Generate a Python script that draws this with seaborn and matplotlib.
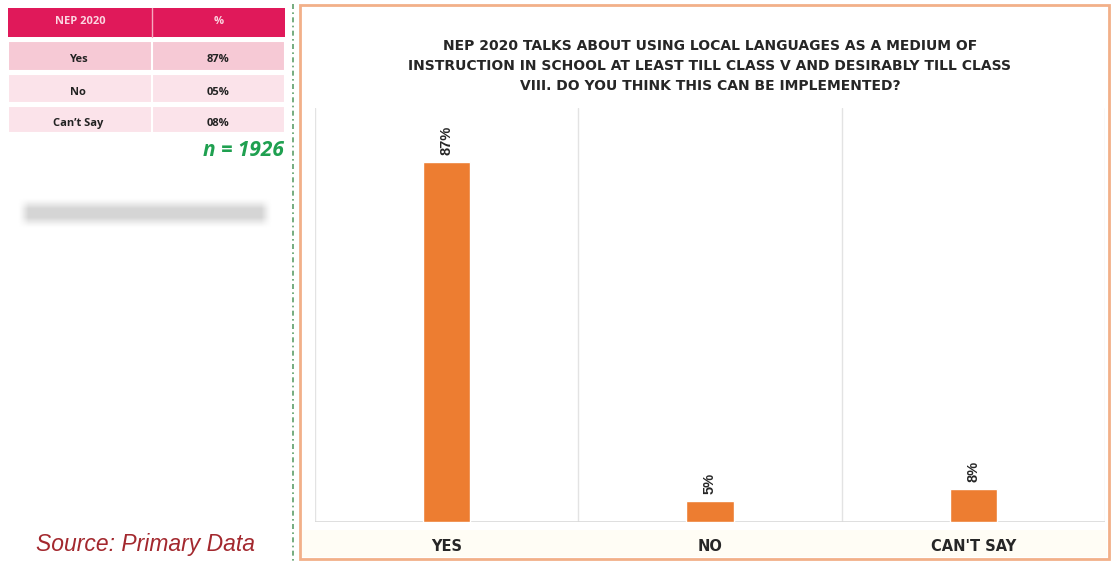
import numpy as np
import pandas as pd
import matplotlib
matplotlib.use("Agg")
import matplotlib.pyplot as plt
from matplotlib.patches import Rectangle
import seaborn as sns

# Survey responses
categories = ["YES", "NO", "CAN'T SAY"]
shares = [87, 5, 8]

# Summary table beside the chart
table_header = ["NEP 2020", "%"]
table_rows = ["Yes", "No", "Can\u2019t Say"]
table_values = ["87%", "05%", "08%"]
sample_note = "n = 1926"
source_note = "Source: Primary Data"
title = ("NEP 2020 TALKS ABOUT USING LOCAL LANGUAGES AS A MEDIUM OF\n"
         "INSTRUCTION IN SCHOOL AT LEAST TILL CLASS V AND DESIRABLY TILL CLASS\n"
         "VIII. DO YOU THINK THIS CAN BE IMPLEMENTED?")

sns.set_theme(style="white")
plt.rcParams["font.family"] = ["Open Sans", "DejaVu Sans"]

W, H = 1112, 562
fig = plt.figure(figsize=(W / 100, H / 100), dpi=100)
fig.patch.set_facecolor("white")

# Page overlay in pixel coordinates for the table, notes and frames
page = fig.add_axes([0, 0, 1, 1])
page.set_xlim(0, W)
page.set_ylim(H, 0)
page.axis("off")

# Chart frame
page.add_patch(Rectangle((300, 5), 809, 554, facecolor="white",
                         edgecolor="#F2B089", lw=2.0, zorder=1))
page.add_patch(Rectangle((302, 530), 805, 27, facecolor="#FFFDF5",
                         edgecolor="none", zorder=1.1))
# Dotted divider
page.plot([293, 293], [4, 562], color="#5E9E6A", lw=1.2,
          ls=(0, (3, 2, 1, 2)), zorder=2)

# Table
header_col = "#E0195A"
row_cols = ["#F6C9D5", "#FBE3EA", "#FBE3EA"]
col_x = [8, 152, 285]
page.add_patch(Rectangle((8, 8), 277, 29, facecolor=header_col, edgecolor="none", zorder=2))
page.plot([152, 152], [8, 37], color="#F5A9BF", lw=1, zorder=3)
for j, txt in enumerate(table_header):
    cx = (col_x[j] + col_x[j + 1]) / 2
    page.text(cx, 22, txt, color="#FBD5E0", fontsize=8, fontweight="bold",
              ha="center", va="center", zorder=4)
row_tops = [41, 74, 106]
row_h = [30, 29, 27]
for i, (lab, val) in enumerate(zip(table_rows, table_values)):
    y0 = row_tops[i]
    page.add_patch(Rectangle((8, y0), 277, row_h[i], facecolor=row_cols[i],
                             edgecolor="white", lw=1.5, zorder=2))
    page.plot([152, 152], [y0, y0 + row_h[i]], color="white", lw=1.5, zorder=3)
    cy = y0 + row_h[i] / 2 + 4
    page.text(78, cy, lab, fontsize=8, fontweight="bold", color="#222222",
              ha="center", va="center", zorder=4)
    page.text(218, cy, val, fontsize=8, fontweight="bold", color="#222222",
              ha="center", va="center", zorder=4)

page.text(284, 151, sample_note, fontsize=15, fontweight="bold", style="italic",
          color="#1FA050", ha="right", va="center", zorder=4)

# Soft grey placeholder strip
gx = np.linspace(0, 1, 300)
gy = np.linspace(0, 1, 40)
fx = np.clip(np.minimum(gx, 1 - gx) / 0.04, 0, 1)
fy = np.clip(np.minimum(gy, 1 - gy) / 0.35, 0, 1)
alpha = np.outer(fy, fx) ** 1.2
strip = np.zeros((40, 300, 4))
strip[..., :3] = 0.83
strip[..., 3] = alpha * 0.95
page.imshow(strip, extent=(18, 272, 228, 198), aspect="auto", zorder=2,
            interpolation="bilinear")

page.text(146, 545, source_note, family=["Liberation Sans", "DejaVu Sans"],
          fontsize=16.5, style="italic", color="#A3282E", ha="center",
          va="center", zorder=4)

# Main bar chart
left, right, top, bottom = 315, 1105, 108, 522
ax = fig.add_axes([left / W, (H - bottom) / H, (right - left) / W, (bottom - top) / H])
ax.set_facecolor("none")
df = pd.DataFrame({"answer": categories, "share": shares})
sns.barplot(data=df, x="answer", y="share", color="#ED7D31", width=0.18,
            saturation=1, ax=ax, zorder=3)
ax.set_ylim(0, 100)
ax.set_xlim(-0.5, len(categories) - 0.5)
for s in ax.spines.values():
    s.set_visible(False)
ax.axhline(0, color="#D9D9D9", lw=1.2, zorder=2)
for b in np.arange(-0.5, len(categories), 1.0):
    ax.axvline(b, color="#E3E3E3", lw=1.0, zorder=1)
ax.set_yticks([])
ax.set_xlabel("")
ax.set_ylabel("")
ax.tick_params(axis="x", length=0, pad=12)
ax.set_xticks(range(len(categories)))
ax.set_xticklabels(categories, fontsize=10.5, fontweight="bold", color="#262626",
                   family=["DejaVu Sans"])
for bar, v in zip(ax.patches, shares):
    ax.annotate(f"{v}%", (bar.get_x() + bar.get_width() / 2, bar.get_height()),
                xytext=(0, 5), textcoords="offset points", rotation=90,
                ha="center", va="bottom", fontsize=10.5, fontweight="bold",
                color="#262626", family=["Liberation Sans", "DejaVu Sans"])

page.text(710, 66, title, fontsize=10, fontweight="bold", color="#262626",
          family=["DejaVu Sans"], ha="center", va="center", linespacing=1.55,
          zorder=4)

fig.savefig("out.png", dpi=100)
